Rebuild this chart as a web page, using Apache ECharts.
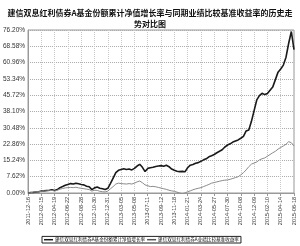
<!DOCTYPE html>
<html><head><meta charset="utf-8">
<script src="https://cdn.jsdelivr.net/npm/echarts@6/dist/echarts.min.js"></script>
<style>html,body{margin:0;padding:0;background:#fff}#c{width:300px;height:246px}</style>
</head><body><div id="c"></div>
<script>
var titleText = '建信双息红利债券A基金份额累计净值增长率与同期业绩比较基准收益率的历史走\n势对比图';
var tickLabels = ['2011-12-16','2012-02-15','2012-04-19','2012-06-22','2012-08-28','2012-10-30','2012-12-31','2013-03-05','2013-05-08','2013-07-11','2013-09-12','2013-11-18','2014-01-21','2014-03-24','2014-05-27','2014-07-30','2014-10-08','2014-12-09','2015-02-10','2015-04-14','2015-06-18'];
var yTicks = [0, 7.62, 15.24, 22.86, 30.48, 38.10, 45.72, 53.34, 60.96, 68.58, 76.20];
var seriesNames = ['建信双息红利债券A基金份额累计净值增长率', '建信双息红利债券A业绩比较基准收益率'];
var fundValues = [0,0.2,0.3,0.5,0.6,0.9,1.0,1.2,1.3,1.5,1.2,1.6,2.5,3.0,3.6,4.0,4.4,4.2,4.6,4.3,
4.0,3.8,3.2,2.9,1.6,2.4,2.8,2.2,2.0,1.6,2.2,4.5,7.0,9.5,10.6,11.0,11.3,11.0,11.2,10.8,
11.5,12.6,13.4,12.0,10.0,11.5,11.8,12.0,12.4,12.6,12.8,12.5,13.0,12.3,11.2,10.6,10.2,10.0,10.1,9.9,
11.8,13.0,13.3,13.9,14.2,14.8,15.5,16.0,16.9,17.4,18.0,18.8,19.5,20.2,21.5,22.4,23.0,23.8,24.3,24.8,
25.6,26.5,29.0,29.5,33.5,38.5,43.5,45.5,46.6,46.0,46.5,48.0,49.5,53.0,56.5,58.0,59.8,63.5,70.0,75.5,67.0];
var benchValues = [0,0.2,0.4,0.5,0.6,0.8,0.9,1.0,1.1,1.2,0.9,1.3,1.8,2.1,2.4,2.5,2.6,2.5,2.7,2.4,
2.2,2.0,1.8,1.6,0.9,1.3,1.2,0.8,0.6,0.5,0.9,2.0,3.0,4.2,4.6,4.4,4.3,4.2,4.4,4.2,
4.6,5.2,5.6,4.8,3.8,3.4,3.0,3.1,2.9,2.6,2.3,2.0,1.7,1.3,1.0,0.8,0.4,0.0,-0.3,0.0,
0.6,1.0,1.5,1.9,2.2,2.5,3.0,3.5,4.0,4.6,4.9,5.2,5.5,5.8,6.0,6.1,6.4,6.8,7.2,7.6,
8.5,9.5,10.8,12.3,13.5,14.0,14.5,15.5,16.0,16.4,17.2,18.0,18.8,19.5,20.5,21.3,22.0,22.8,24.0,23.5,22.0];

var step = 5;
var categories = fundValues.map(function(v, i){ return (i % step === 0) ? tickLabels[i/step] : ('#' + i); });

var chart = echarts.init(document.getElementById('c'), null, {renderer:'canvas'});
chart.setOption({
  animation: false,
  backgroundColor: '#fff',
  title: {
    text: titleText, left: 'center', top: 2,
    textStyle: {fontFamily: 'Noto Sans CJK SC', fontSize: 8, fontWeight: 'bold', color: '#111', lineHeight: 11}
  },
  legend: {
    bottom: 3, left: 42,
    data: seriesNames,
    itemWidth: 9, itemHeight: 1.5, itemGap: 2,
    icon: 'rect',
    padding: [1, 2, 1, 2],
    borderColor: '#222', borderWidth: 1,
    textStyle: {fontFamily: 'Noto Sans CJK SC', fontSize: 4.6, color: '#111', padding: [0,0,0,-3]}
  },
  grid: {left: 27, right: 6, top: 30, bottom: 53, show: true, borderColor: '#999', borderWidth: 1},
  xAxis: {
    type: 'category', data: categories, boundaryGap: false,
    axisLine: {lineStyle: {color: '#999'}},
    axisTick: {show: true, interval: step - 1, length: 3, lineStyle: {color: '#999'}},
    axisLabel: {interval: step - 1, rotate: 90, fontSize: 5.5, color: '#333', margin: 4, fontFamily: 'Liberation Sans'},
    splitLine: {show: true, interval: step - 1, lineStyle: {color: '#c8c8c8', type: 'dotted'}}
  },
  yAxis: {
    type: 'value', min: yTicks[0], max: yTicks[yTicks.length-1], interval: yTicks[1] - yTicks[0],
    axisLine: {show: true, lineStyle: {color: '#999'}},
    axisTick: {show: false},
    axisLabel: {fontSize: 6.5, color: '#333', margin: 3, fontFamily: 'Liberation Sans',
      formatter: function(v){ return v.toFixed(2) + '%'; }},
    splitLine: {show: true, lineStyle: {color: '#aaa', type: 'dotted'}}
  },
  series: [
    {name: seriesNames[0], type: 'line', data: fundValues, showSymbol: false, lineStyle: {color: '#1a1a1a', width: 1.6}, itemStyle: {color: '#1a1a1a'}},
    {name: seriesNames[1], type: 'line', data: benchValues, showSymbol: false, lineStyle: {color: '#8a8a8a', width: 1}, itemStyle: {color: '#555'}}
  ]
});
</script></body></html>
